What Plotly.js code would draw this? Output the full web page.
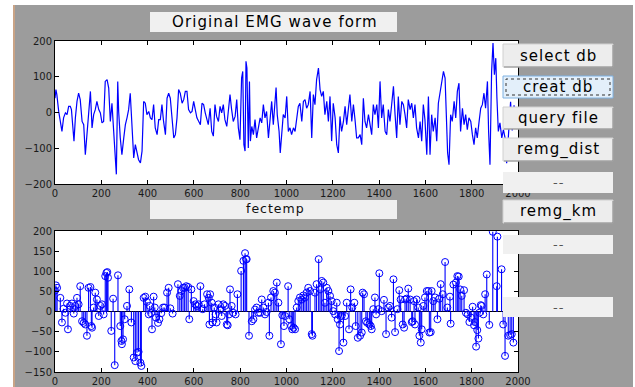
<!DOCTYPE html>
<html>
<head>
<meta charset="utf-8">
<script src="https://cdn.plot.ly/plotly-3.0.1.min.js"></script>
<style>html,body{margin:0;padding:0;background:#fff;}#chart{width:635px;height:387px;}</style>
</head>
<body>
<div id="chart"></div>
<script>
// ---- Top panel: original EMG wave form (sample index, amplitude) ----
const emgSample = [0,4,8,16,30,37,45,52,59,66,71,76,82,88,95,102,109,117,124,131,138,145,153,160,167,174,181,189,196,203,210,217,225,232,239,246,253,261,265,271,275,282,289,297,304,311,318,325,333,340,347,354,361,369,376,383,390,397,405,412,419,426,433,441,448,455,462,469,477,484,491,498,505,513,520,527,534,541,549,556,563,570,577,585,592,599,606,613,621,628,635,642,649,657,
662,670,677,684,691,698,706,713,720,727,734,742,749,756,763,770,778,785,792,799,806,811,816,821,825,829,835,840,844,850,857,864,871,878,886,893,900,907,914,922,929,936,943,950,955,960,968,973,979,986,994,1001,1008,1015,1022,1030,1037,1044,1051,1058,1066,1073,1080,1087,1094,1102,1109,1116,1123,1130,1138,1145,1152,1159,1166,1174,1181,1188,1195,1202,1210,1217,1224,1231,1238,1246,1253,1260,1267,1274,1282,1289,1296,1303,1310,
1318,1325,1332,1339,1346,1354,1361,1368,1375,1382,1390,1397,1404,1411,1418,1426,1433,1440,1447,1454,1462,1469,1476,1483,1490,1498,1505,1512,1519,1526,1534,1541,1548,1555,1562,1570,1577,1584,1591,1598,1606,1613,1620,1627,1634,1642,1649,1656,1663,1670,1678,1685,1692,1696,1702,1709,1716,1724,1731,1738,1745,1752,1760,1767,1774,1781,1788,1796,1803,1810,1817,1824,1832,1839,1846,1853,1860,1868,1873,1879,1886,1892,1898,1904,1909,1915,1922,1930,1937,1944,1951,1960,1968,1975,1983,1990,1998];
const emgAmp = [40,64,50,3,-53,-15,-1,-6,17,17,8,-43,-80,-15,31,54,36,-25,-34,-118,-62,-25,59,-43,-6,8,31,8,-1,-29,-25,87,92,68,-25,26,-53,-146,-173,87,3,-71,-118,-71,-34,-15,8,54,-34,-127,-90,-113,-132,-141,-108,31,26,-6,3,-15,-20,22,-43,-62,-20,-20,22,-25,-62,40,54,40,-15,-71,-62,-15,64,54,26,36,59,59,8,-1,3,31,8,-15,-25,-34,26,22,-1,-25,
-34,12,-53,-66,22,-11,-25,17,-1,22,-20,-39,-1,50,8,-25,-11,36,-43,-76,96,115,-90,-108,143,124,-99,87,-80,-39,-62,-20,-71,-43,-15,-29,22,-15,3,-71,-6,31,-34,45,70,-6,-53,-113,-62,-6,-15,45,-53,-43,-62,-43,-53,-15,17,26,-25,31,36,12,22,59,-71,50,22,92,124,64,45,59,-6,31,-25,45,-80,26,-15,-90,-113,-11,-53,-25,17,-34,8,50,-25,22,-20,-71,-71,
-62,-90,40,-25,-43,-6,-34,-62,22,-6,22,-43,87,-15,22,-53,-62,8,-25,22,73,-6,-71,45,-34,31,22,-6,-43,36,8,26,-15,22,-43,-71,-25,-80,22,-20,-118,45,-118,-6,-53,-15,-80,26,59,87,115,96,-71,-113,-146,-6,-25,31,-15,59,82,-53,12,-34,-6,-48,-15,-25,-62,-90,-43,-71,-25,12,22,54,12,87,-53,-146,115,194,106,152,40,-53,-29,-71,-48,-71,-142,-60,30,-50,20,-40,10];

// ---- Bottom panel: fectemp stem values (sample index, amplitude) ----
const fecSample = [0,4,9,23,30,37,45,52,56,66,73,81,88,95,102,109,117,124,131,138,145,153,157,160,167,174,181,189,196,203,210,217,222,226,229,243,251,258,272,282,287,289,294,301,311,321,330,340,347,354,361,369,373,383,390,397,405,409,415,419,426,431,436,445,451,459,467,474,484,491,498,508,531,539,546,553,560,567,575,580,589,599,606,613,621,628,638,646,657,664,667,
670,677,680,688,694,698,706,713,720,727,734,742,746,752,756,763,770,780,788,804,814,821,825,828,838,850,857,864,871,878,886,893,900,907,914,922,926,933,943,950,958,965,976,982,989,994,1007,1012,1020,1025,1031,1037,1044,1051,1058,1066,1073,1080,1087,1094,1102,1109,1112,1123,1130,1139,1145,1152,1159,1166,1174,1181,1188,1195,1202,1210,1217,1221,1227,1231,1238,1246,1253,1260,1270,1277,1284,1293,1299,1308,
1318,1325,1329,1335,1343,1349,1358,1364,1368,1375,1382,1387,1397,1401,1411,1421,1430,1440,1447,1454,1462,1469,1479,1487,1493,1502,1508,1512,1519,1526,1534,1541,1545,1551,1555,1562,1569,1574,1580,1584,1591,1598,1606,1613,1617,1623,1627,1634,1642,1652,1660,1666,1675,1685,1695,1706,1709,1721,1732,1738,1744,1750,1757,1767,1775,1783,1790,1797,1804,1810,1814,1819,1824,1829,1833,1839,1843,1850,1858,1865,1876,1891,1908,1911,1929,1936,1944,1958,1966,1973,1980];
const fecAmp = [52,65,59,34,-27,7,-3,20,-44,14,20,-5,14,34,18,63,-24,-28,-32,-60,59,61,-36,-40,10,47,30,-11,14,18,-7,88,96,98,84,-48,32,-133,90,-36,-73,-81,-69,-19,14,55,-27,-114,-123,-102,-100,-127,-135,34,37,24,-7,14,-4,-44,37,10,-15,-28,-19,-4,10,10,47,59,8,-5,68,39,51,59,59,63,61,-19,55,26,18,14,18,63,6,18,43,34,-32,
43,22,-27,10,-7,-27,18,5,-11,18,14,-32,-34,-7,55,14,-3,-7,43,101,126,145,130,130,-60,-24,-19,5,10,-3,-3,30,10,-7,-1,22,-60,35,51,47,72,22,-81,-9,-36,-11,63,-19,-36,-44,-40,-44,10,26,35,30,40,35,47,59,51,-56,-60,47,68,130,55,76,72,22,59,51,39,26,1,-7,22,-19,-98,-32,-11,-77,-11,22,-44,55,10,22,-36,-65,
-60,-52,47,43,-24,-28,-32,-36,-44,6,35,-7,6,95,1,29,-56,10,14,-15,80,-51,6,53,30,-32,-40,30,32,57,30,-26,-24,26,-32,30,10,-60,-77,-44,14,35,51,51,-52,-51,51,26,35,-19,32,68,43,123,10,37,-30,67,72,88,87,55,39,53,-3,-7,-26,-15,12,-34,-26,-87,-46,-67,-3,16,14,-7,43,92,-33,198,63,186,105,-32,-110,-60,-58,-56,-77];

const xTicks = [0,200,400,600,800,1000,1200,1400,1600,1800,2000];
const yTicksTop = [-200,-100,0,100,200];
const yTicksBottom = [-150,-100,-50,0,50,100,150,200];

// GUI text
const titleText = "Original EMG wave form";
const fecText = "fectemp";
const buttons = ["select db","creat db","query file","remg_dist","remg_km"];

// ---- build stems from the data ----
const stemX = [], stemY = [];
fecSample.forEach((s,i)=>{ stemX.push(s,s,null); stemY.push(0,fecAmp[i],null); });

const W = 635, H = 387;
const px = x => x / W, py = y => 1 - y / H;
const BLUE = '#0000ff';

const traces = [
  {x: emgSample, y: emgAmp, xaxis:'x', yaxis:'y', mode:'lines', line:{color:BLUE, width:1.2}, hoverinfo:'skip'},
  {x: stemX, y: stemY, xaxis:'x2', yaxis:'y2', mode:'lines', line:{color:BLUE, width:1.1}, hoverinfo:'skip', connectgaps:false},
  {x: fecSample, y: fecAmp, xaxis:'x2', yaxis:'y2', mode:'markers', marker:{symbol:'circle-open', size:7, color:BLUE, line:{width:1, color:BLUE}}, hoverinfo:'skip'}
];

const tickFont = {family:'DejaVu Sans, Arial, sans-serif', size:10, color:'#1a1a1a'};
function axis(extra){
  return Object.assign({
    showline:true, linecolor:'#000', linewidth:1, mirror:'ticks',
    ticks:'inside', ticklen:4, tickcolor:'#000', tickwidth:1,
    showgrid:false, zeroline:false, tickfont:tickFont, fixedrange:true
  }, extra);
}

const layout = {
  width: W, height: H,
  margin:{l:0, r:0, t:0, b:0},
  paper_bgcolor:'#9c9c9c', plot_bgcolor:'#ffffff',
  showlegend:false,
  xaxis: axis({domain:[px(55), px(518)], anchor:'y', range:[0,2000], tickvals:xTicks}),
  yaxis: axis({domain:[py(184), py(41)], anchor:'x', range:[-200,200], tickvals:yTicksTop}),
  xaxis2: axis({domain:[px(55), px(518)], anchor:'y2', range:[0,2000], tickvals:xTicks}),
  yaxis2: axis({domain:[py(372), py(231)], anchor:'x2', range:[-150,200], tickvals:yTicksBottom,
                zeroline:true, zerolinecolor:'#000', zerolinewidth:1}),
  shapes: [], annotations: []
};

function rectPx(x0,y0,x1,y1,fill,line,layer,dash){
  return {type:'rect', xref:'paper', yref:'paper', x0:px(x0), x1:px(x1), y0:py(y1), y1:py(y0),
          fillcolor:fill, line: line ? {color:line, width:1, dash:dash||'solid'} : {width:0}, layer: layer||'above'};
}
function linePx(x0,y0,x1,y1,color){
  return {type:'line', xref:'paper', yref:'paper', x0:px(x0), x1:px(x1), y0:py(y0), y1:py(y1), line:{color:color, width:1}, layer:'above'};
}
function label(text, cx, cy, size, spacing, color){
  layout.annotations.push({xref:'paper', yref:'paper', x:px(cx), y:py(cy), xanchor:'center', yanchor:'middle', showarrow:false,
    text:'<span style="letter-spacing:'+spacing+'px">'+text+'</span>',
    font:{family:'DejaVu Sans, Arial, sans-serif', size:size, color:color||'#000'}});
}

// window borders
layout.shapes.push(rectPx(0,0,635,5,'#ffffff',null,'below'));
layout.shapes.push(rectPx(0,0,13,387,'#ffffff',null,'below'));
layout.shapes.push(rectPx(13,5,15,387,'#c9a386',null,'below'));
layout.shapes.push(rectPx(633,0,635,387,'#ffffff',null,'below'));

// static text boxes
layout.shapes.push(rectPx(150,12,397,32,'#f0f0f0',null));
label(titleText, 275, 22, 15, 1.1);
layout.shapes.push(rectPx(150,200,397,219,'#f0f0f0',null));
label(fecText, 275, 208.5, 12.5, 1, '#111');

// buttons
function button(text, y0, y1, focus){
  const x0 = 503, x1 = 613;
  if (focus){
    layout.shapes.push(rectPx(x0,y0,x1,y1,'#e3effa','#7fb2e3'));
    layout.shapes.push(rectPx(x0+3,y0+3,x1-3,y1-3,'rgba(0,0,0,0)','#333333','above','dot'));
  } else {
    layout.shapes.push(rectPx(x0,y0,x1,y1,'#ededed','#d0d0d0'));
    layout.shapes.push(linePx(x0+1,y1,x1,y1,'#8a8a8a'));
    layout.shapes.push(linePx(x1,y0+1,x1,y1,'#8a8a8a'));
  }
  label(text, (x0+x1)/2, (y0+y1)/2, 15, 1);
}
function flatBox(y0,y1){
  layout.shapes.push(rectPx(503,y0,613,y1,'#f0f0f0',null));
  label('--', 558, (y0+y1)/2, 13, 1, '#555');
}
button(buttons[0], 44, 67, false);
button(buttons[1], 76, 98, true);
button(buttons[2], 107, 129, false);
button(buttons[3], 138, 161, false);
flatBox(172, 193);
button(buttons[4], 200, 223, false);
flatBox(235, 254);
flatBox(297, 317);

Plotly.newPlot('chart', traces, layout, {staticPlot:true, displayModeBar:false});
</script>
</body>
</html>
